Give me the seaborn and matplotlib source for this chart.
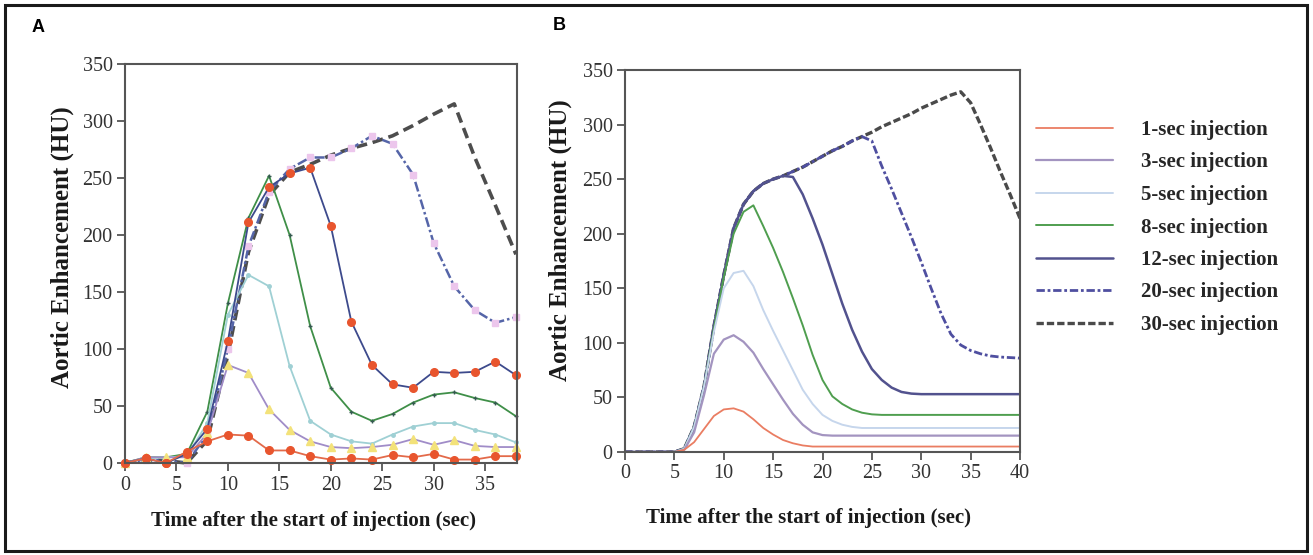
import matplotlib
matplotlib.use("Agg")
import matplotlib.pyplot as plt
import seaborn as sns
import pandas as pd
from matplotlib.patches import Rectangle

sns.set_theme(style="white")
plt.rcParams['font.family'] = ['Liberation Serif', 'DejaVu Serif']

labels = ["1-sec injection", "3-sec injection", "5-sec injection", "8-sec injection",
          "12-sec injection", "20-sec injection", "30-sec injection"]

# ---------------- Panel A (measured, every 2 s) ----------------
time_a = [0, 2, 4, 6, 8, 10, 12, 14, 16, 18, 20, 22, 24, 26, 28, 30, 32, 34, 36, 38]
a_1sec = [0, 4, 0, 10, 19, 25, 24, 11, 11, 6, 3, 4, 3, 7, 5, 8, 3, 3, 6, 6]
a_3sec = [0, 5, 5, 5, 26, 86, 79, 47, 29, 19, 14, 13, 14, 16, 21, 16, 20, 15, 14, 14]
a_5sec = [0, 4, 5, 6, 35, 130, 165, 155, 85, 37, 25, 19, 17, 25, 32, 35, 35, 29, 25, 18]
a_8sec = [0, 5, 5, 8, 45, 140, 215, 252, 200, 120, 66, 45, 37, 43, 53, 60, 62, 57, 53, 41]
a_12sec = [0, 4, 0, 8, 30, 107, 211, 242, 254, 259, 208, 124, 86, 69, 66, 80, 79, 80, 89, 77]
a_20sec = [0, 3, 2, 0, 25, 100, 190, 238, 258, 268, 268, 276, 287, 280, 253, 193, 155, 134, 123, 128]
a_30sec = [0, 3, 2, 0, 20, 95, 185, 235, 255, 262, 270, 276, 281, 287, 296, 306, 315, 268, 226, 183]

# ---------------- Panel B (simulated, every 1 s) ----------------
time_b = list(range(0, 41))
b_1sec = [0, 0, 0, 0, 0, 0, 2, 9, 21, 33, 39, 40, 37, 30, 22, 16, 11, 8, 6, 5,
          5, 5, 5, 5, 5, 5, 5, 5, 5, 5, 5, 5, 5, 5, 5, 5, 5, 5, 5, 5, 5]
b_3sec = [0, 0, 0, 0, 0, 0, 2, 18, 52, 90, 103, 107, 101, 91, 76, 62, 48, 35, 25, 18,
          15.5, 15, 15, 15, 15, 15, 15, 15, 15, 15, 15, 15, 15, 15, 15, 15, 15, 15, 15, 15, 15]
b_5sec = [0, 0, 0, 0, 0, 0, 3, 23, 60, 110, 150, 164, 166, 152, 130, 111, 93, 75, 57, 44,
          34, 28.5, 25, 23, 22, 22, 22, 22, 22, 22, 22, 22, 22, 22, 22, 22, 22, 22, 22, 22, 22]
b_8sec = [0, 0, 0, 0, 0, 0, 3, 23, 60, 113, 160, 200, 220, 226, 207, 187, 165, 141, 116, 89,
          66, 51, 44, 39, 36, 34.5, 34, 34, 34, 34, 34, 34, 34, 34, 34, 34, 34, 34, 34, 34, 34]
b_12sec = [0, 0, 0, 0, 0, 0, 3, 23, 60, 115, 162, 205, 227, 239, 246, 250, 253, 252, 236, 214,
           190, 163, 136, 112, 92, 76, 66, 59, 55, 53.5, 53, 53, 53, 53, 53, 53, 53, 53, 53, 53, 53]
b_20sec = [0, 0, 0, 0, 0, 0, 3, 23, 60, 115, 162, 205, 227, 239, 246, 250, 253, 257, 261, 266,
           271, 276, 280, 285, 289, 285, 262, 241, 219, 197, 174, 150, 127, 108, 98, 93, 90, 88, 87, 86.5, 86]
b_30sec = [0, 0, 0, 0, 0, 0, 3, 23, 60, 115, 162, 205, 227, 239, 246, 250, 253, 257, 261, 266,
           271, 276, 280, 285, 289, 293, 298, 302, 306, 310, 315, 319, 323, 327, 330, 320, 300, 279, 257, 236, 214]

series_a = [a_1sec, a_3sec, a_5sec, a_8sec, a_12sec, a_20sec, a_30sec]
series_b = [b_1sec, b_3sec, b_5sec, b_8sec, b_12sec, b_20sec, b_30sec]

df_a = pd.concat([pd.DataFrame({"time": time_a, "hu": v, "series": lab})
                  for lab, v in zip(labels, series_a)], ignore_index=True)
df_b = pd.concat([pd.DataFrame({"time": time_b, "hu": v, "series": lab})
                  for lab, v in zip(labels, series_b)], ignore_index=True)

# styles
style_a = {
    "30-sec injection": dict(color="#4d4d4d", lw=2.6, ls="--", dashes=(3.0, 1.6), marker=None),
    "20-sec injection": dict(color="#5565a8", lw=1.8, ls="-.", dashes=(4, 1.2, 1, 1.2), marker="s",
                             ms=4, mfc="#ecc6ec", mec="#ecc6ec"),
    "8-sec injection": dict(color="#3f8f48", lw=1.3, ls="-", marker="+", ms=3.5, mfc="#355a50", mec="#355a50"),
    "5-sec injection": dict(color="#9fd0d4", lw=1.3, ls="-", marker="o", ms=2.5, mfc="#9fd0d4", mec="#9fd0d4"),
    "3-sec injection": dict(color="#a08cc8", lw=1.3, ls="-", marker="^", ms=5.5, mfc="#f3e27a", mec="#f3e27a"),
    "12-sec injection": dict(color="#3d4a8c", lw=1.3, ls="-", marker="o", ms=5.5, mfc="#e8552e", mec="#e8552e"),
    "1-sec injection": dict(color="#e36a4a", lw=1.3, ls="-", marker="o", ms=5.5, mfc="#e8552e", mec="#e8552e"),
}
style_b = {
    "1-sec injection": dict(color="#ea7d62", lw=1.3, ls="-"),
    "3-sec injection": dict(color="#a394c0", lw=1.6, ls="-"),
    "5-sec injection": dict(color="#c6d6ec", lw=1.4, ls="-"),
    "8-sec injection": dict(color="#4f9e4f", lw=1.4, ls="-"),
    "12-sec injection": dict(color="#52528e", lw=1.8, ls="-"),
    "20-sec injection": dict(color="#4f4fa0", lw=2.0, ls="-.", dashes=(3, 1, 1, 1)),
    "30-sec injection": dict(color="#4a4a4a", lw=2.4, ls="--", dashes=(2.2, 0.9)),
}

fig = plt.figure(figsize=(13.13, 5.55), dpi=100, facecolor="white")
W, H = 1313.0, 555.0
axA = fig.add_axes([125 / W, 1 - 463 / H, 392 / W, 399 / H])
axB = fig.add_axes([625 / W, 1 - 452 / H, 395 / W, 382 / H])

for lab in ["30-sec injection", "20-sec injection", "8-sec injection", "5-sec injection",
            "3-sec injection", "12-sec injection", "1-sec injection"]:
    st = style_a[lab]
    sub = df_a[df_a["series"] == lab]
    kw = dict(color=st["color"], linewidth=st["lw"], linestyle=st["ls"])
    if st.get("marker"):
        kw.update(marker=st["marker"], markersize=st["ms"], markerfacecolor=st["mfc"],
                  markeredgecolor=st["mec"], markeredgewidth=1.0)
    sns.lineplot(data=sub, x="time", y="hu", ax=axA, legend=False, estimator=None,
                 sort=False, clip_on=False, **kw)
    if st.get("dashes"):
        axA.lines[-1].set_dashes(st["dashes"])

handles = {}
for lab in ["30-sec injection", "20-sec injection", "12-sec injection", "8-sec injection",
            "5-sec injection", "3-sec injection", "1-sec injection"]:
    st = style_b[lab]
    sub = df_b[df_b["series"] == lab]
    sns.lineplot(data=sub, x="time", y="hu", ax=axB, legend=False, estimator=None, sort=False,
                 color=st["color"], linewidth=st["lw"], linestyle=st["ls"])
    ln = axB.lines[-1]
    if st.get("dashes"):
        ln.set_dashes(st["dashes"])
    handles[lab] = ln

for ax, xmax, xt in [(axA, 38.1, range(0, 36, 5)), (axB, 40, range(0, 41, 5))]:
    ax.set_xlim(0, xmax)
    ax.set_ylim(0, 350)
    ax.set_xticks(list(xt))
    ax.set_yticks(list(range(0, 351, 50)))
    ax.set_facecolor("white")
    for sp in ax.spines.values():
        sp.set_visible(True)
        sp.set_color("#555555")
        sp.set_linewidth(1.5)
    ax.tick_params(axis="both", which="major", direction="out", length=6, width=1.3,
                   color="#555555", labelsize=14.5, labelcolor="#333333", pad=3,
                   bottom=True, left=True, top=False, right=False)
    for t in ax.get_xticklabels() + ax.get_yticklabels():
        t.set_fontfamily("Liberation Serif")
    ax.set_xlabel("Time after the start of injection (sec)", fontsize=15, fontweight="bold",
                  color="#1a1a1a")
    ax.set_ylabel("Aortic Enhancement (HU)", fontsize=18, fontweight="bold", color="#1a1a1a")
    ax.xaxis.label.set_va("center")
    ax.yaxis.label.set_va("center")
    ax.grid(False)

axA.xaxis.set_label_coords(0.48, (463 - 521) / 399)
axA.yaxis.set_label_coords((62 - 125) / 392, 0.54)
axB.xaxis.set_label_coords(0.464, (452 - 518) / 382)
axB.yaxis.set_label_coords((560 - 625) / 395, 0.555)

leg_handles = [handles[l] for l in labels]
fig.legend(leg_handles, labels, loc="upper left", bbox_to_anchor=(1036 / W, 1 - 120 / H),
           frameon=False, handlelength=3.7, handletextpad=1.35, labelspacing=0.6,
           borderpad=0, borderaxespad=0,
           prop={"family": "Liberation Serif", "weight": "bold", "size": 15})

fig.text(38 / W, 1 - 28 / H, "A", fontfamily="Liberation Sans", fontweight="bold",
         fontsize=13, ha="center", va="center", color="black")
fig.text(559 / W, 1 - 25 / H, "B", fontfamily="Liberation Sans", fontweight="bold",
         fontsize=13, ha="center", va="center", color="black")

fig.add_artist(Rectangle((5 / W, 4 / H), 1302 / W, 546 / H, transform=fig.transFigure,
                         fill=False, edgecolor="#1a1a1a", linewidth=2.2))

fig.savefig("out.png", dpi=100, facecolor="white")
